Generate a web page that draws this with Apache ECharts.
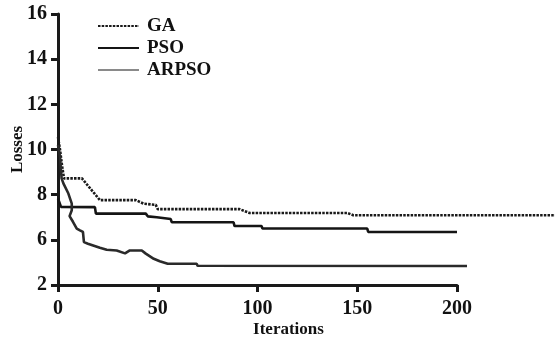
<!DOCTYPE html>
<html>
<head>
<meta charset="utf-8">
<script src="https://cdn.jsdelivr.net/npm/echarts@6/dist/echarts.min.js"></script>
<style>
html,body{margin:0;padding:0;background:#fff;}
#chart{width:555px;height:337px;}
</style>
</head>
<body>
<div id="chart"></div>
<script>
// Values read against the plotted axis (bottom tick drawn at 4, labelled "2" as in the source)
var seriesNames = ['GA', 'PSO', 'ARPSO'];
var xTicks = [0, 50, 100, 150, 200];
var yTicks = [4, 6, 8, 10, 12, 14, 16];
var yTickLabels = ['2', '6', '8', '10', '12', '14', '16'];

var gaIter = [0, 1, 2, 3, 12, 21, 39, 43, 49, 50, 91, 96, 145, 148, 250];
var gaLoss = [10.55, 10.0, 9.3, 8.72, 8.72, 7.76, 7.76, 7.6, 7.55, 7.36, 7.36, 7.19, 7.19, 7.09, 7.09];

var psoIter = [0, 1.5, 18.5, 19, 44, 45, 49.5, 50, 56.5, 57, 88, 88.5, 102, 102.5, 155, 155.5, 200];
var psoLoss = [7.83, 7.46, 7.45, 7.16, 7.16, 7.04, 7.0, 6.92, 6.92, 6.78, 6.78, 6.61, 6.61, 6.50, 6.50, 6.35, 6.35];

var arpsoIter = [0, 1, 1.8, 2.7, 5.2, 6.9, 6.9, 5.8, 7.5, 9.4, 11, 12.5, 13, 15, 21, 24.4, 29.4, 33.6, 36, 42, 44, 48, 51, 55, 69.5, 70, 205];
var arpsoLoss = [10.2, 9.68, 8.72, 8.5, 8.05, 7.6, 7.31, 7.05, 6.8, 6.5, 6.42, 6.35, 5.9, 5.83, 5.65, 5.56, 5.53, 5.4, 5.53, 5.53, 5.39, 5.16, 5.05, 4.94, 4.94, 4.85, 4.84];

function pairs(xs, ys){ return xs.map(function(x,i){ return [x, ys[i]]; }); }

var W = 555, gridLeft = 58, gridRight = 98;
var xMax = 200;
// hidden companion axis with the identical px-per-iteration scale, reaching the right edge
var xMaxExt = xMax * (W - gridLeft) / (W - gridLeft - gridRight);

var font = 'Liberation Serif';
var chart = echarts.init(document.getElementById('chart'), null, {renderer:'canvas'});
chart.setOption({
  animation: false,
  backgroundColor: '#ffffff',
  grid: [
    {left: gridLeft, right: gridRight, top: 14, bottom: 52, containLabel: false, outerBoundsMode: 'none'},
    {left: gridLeft, right: 0, top: 14, bottom: 52, containLabel: false, outerBoundsMode: 'none'}
  ],
  legend: {
    orient: 'vertical',
    left: 97, top: 16, padding: 0,
    itemWidth: 41, itemHeight: 14, itemGap: 2,
    itemStyle: {opacity: 0},
    textStyle: {fontFamily: font, fontWeight: 'bold', fontSize: 19, color: '#111', lineHeight: 20, padding: [0,0,0,3]},
    data: [
      {name: 'GA'},
      {name: 'PSO'},
      {name: 'ARPSO', lineStyle: {color: '#8a8a8a'}}
    ]
  },
  xAxis: [{
    gridIndex: 0,
    type: 'value', min: 0, max: xMax, interval: 50,
    name: 'Iterations', nameLocation: 'middle', nameGap: 36, nameMoveOverlap: false,
    nameTextStyle: {fontFamily: font, fontWeight: 'bold', fontSize: 17, color: '#111', padding: [0,0,0,62]},
    axisLine: {lineStyle: {color: '#1a1a1a', width: 3}},
    axisTick: {length: 7, lineStyle: {color: '#1a1a1a', width: 3}},
    axisLabel: {margin: 14, fontFamily: font, fontWeight: 'bold', fontSize: 20, color: '#111',
      formatter: function(v){ return xTicks.indexOf(v) >= 0 ? String(v) : ''; }},
    splitLine: {show: false}
  }, {
    gridIndex: 1, type: 'value', min: 0, max: xMaxExt, show: false, splitLine: {show: false}
  }],
  yAxis: [{
    gridIndex: 0,
    type: 'value', min: 4, max: 16, interval: 2,
    name: 'Losses', nameLocation: 'middle', nameGap: 32, nameRotate: 90, nameMoveOverlap: false,
    nameTextStyle: {fontFamily: font, fontWeight: 'bold', fontSize: 17, color: '#111'},
    axisLine: {show: true, lineStyle: {color: '#1a1a1a', width: 3}},
    axisTick: {show: true, length: 7, lineStyle: {color: '#1a1a1a', width: 3}},
    axisLabel: {margin: 11, fontFamily: font, fontWeight: 'bold', fontSize: 20, color: '#111',
      formatter: function(v){ var i = yTicks.indexOf(v); return i >= 0 ? yTickLabels[i] : ''; }},
    splitLine: {show: false}
  }, {
    gridIndex: 1, type: 'value', min: 4, max: 16, show: false, splitLine: {show: false}
  }],
  series: [
    {name: seriesNames[0], type: 'line', xAxisIndex: 1, yAxisIndex: 1, data: pairs(gaIter, gaLoss), symbol: 'none',
     color: '#1a1a1a', lineStyle: {color: '#1a1a1a', width: 2.6, type: [2.5, 1.2]}},
    {name: seriesNames[1], type: 'line', xAxisIndex: 0, yAxisIndex: 0, data: pairs(psoIter, psoLoss), symbol: 'none', clip: false,
     color: '#151515', lineStyle: {color: '#151515', width: 2.6}},
    {name: seriesNames[2], type: 'line', xAxisIndex: 1, yAxisIndex: 1, data: pairs(arpsoIter, arpsoLoss), symbol: 'none',
     color: '#2a2a2a', lineStyle: {color: '#2a2a2a', width: 2.6}}
  ]
});
</script>
</body>
</html>
